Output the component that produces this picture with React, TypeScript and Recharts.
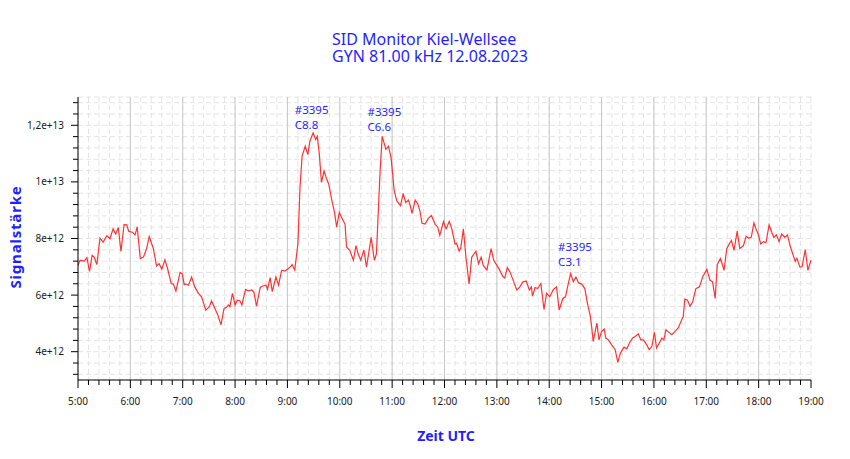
import { LineChart, Line, XAxis, YAxis, CartesianGrid, ReferenceLine, ReferenceDot } from 'recharts'

// time of day in hours (UTC) and signal strength in units of 1e12
const hours = [
  5.0, 5.04, 5.12, 5.17, 5.22, 5.27, 5.31, 5.36, 5.42, 5.48, 5.55, 5.61, 5.67, 5.72, 5.77, 5.82, 5.88, 5.93, 5.97,
  6.04, 6.09, 6.13, 6.19, 6.25, 6.31, 6.36, 6.44, 6.5, 6.55, 6.6, 6.66, 6.71, 6.78, 6.82, 6.87, 6.95, 6.99,
  7.03, 7.06, 7.11, 7.17, 7.23, 7.3, 7.36, 7.44, 7.51, 7.55, 7.6, 7.67, 7.73, 7.79, 7.84, 7.87, 7.9, 7.95,
  8.0, 8.04, 8.09, 8.13, 8.2, 8.25, 8.32, 8.36, 8.41, 8.48, 8.53, 8.59, 8.62, 8.67, 8.71, 8.78, 8.83, 8.89, 8.95,
  9.02, 9.05, 9.09, 9.14, 9.2, 9.24, 9.28, 9.34, 9.39, 9.43, 9.49, 9.54, 9.57, 9.61, 9.65, 9.7, 9.75, 9.79, 9.85, 9.9, 9.94, 9.99,
  10.05, 10.1, 10.13, 10.19, 10.26, 10.31, 10.35, 10.4, 10.46, 10.51, 10.6, 10.66, 10.7, 10.77, 10.81, 10.88, 10.93, 10.98,
  11.04, 11.09, 11.16, 11.21, 11.26, 11.31, 11.34, 11.38, 11.44, 11.49, 11.53, 11.57, 11.63, 11.69, 11.75, 11.82, 11.87, 11.91, 11.98,
  12.03, 12.09, 12.14, 12.2, 12.23, 12.28, 12.31, 12.36, 12.41, 12.47, 12.52, 12.6, 12.65, 12.7, 12.74, 12.81, 12.89, 12.94,
  13.0, 13.05, 13.12, 13.15, 13.2, 13.25, 13.31, 13.38, 13.44, 13.5, 13.56, 13.62, 13.66, 13.68, 13.73, 13.78, 13.84, 13.9, 13.95,
  14.01, 14.08, 14.14, 14.19, 14.26, 14.31, 14.35, 14.41, 14.46, 14.51, 14.56, 14.62, 14.68, 14.73, 14.78, 14.81, 14.84, 14.91, 14.95,
  15.0, 15.05, 15.08, 15.13, 15.19, 15.26, 15.31, 15.36, 15.43, 15.48, 15.53, 15.59, 15.66, 15.7, 15.75, 15.8, 15.86, 15.91, 15.96,
  16.01, 16.05, 16.1, 16.15, 16.19, 16.23, 16.27, 16.34, 16.4, 16.46, 16.53, 16.56, 16.59, 16.64, 16.69, 16.74, 16.8, 16.87, 16.93,
  17.01, 17.07, 17.12, 17.17, 17.21, 17.27, 17.34, 17.39, 17.44, 17.48, 17.53, 17.59, 17.64, 17.71, 17.76, 17.81, 17.86, 17.91, 17.95, 17.99,
  18.04, 18.09, 18.14, 18.2, 18.25, 18.29, 18.34, 18.39, 18.44, 18.5, 18.55, 18.6, 18.65, 18.7, 18.73, 18.79, 18.83, 18.89, 18.94, 19.0,
]

const signal = [
  7.05, 7.23, 7.2, 7.32, 6.84, 7.4, 7.34, 7.08, 8.01, 7.87, 8.1, 7.99, 8.34, 8.16, 8.39, 7.54, 8.49, 8.48, 8.25,
  8.22, 8.13, 8.41, 7.29, 7.34, 7.64, 8.07, 7.64, 7.03, 7.11, 6.91, 7.25, 6.94, 6.41, 6.39, 6.14, 6.8, 6.75,
  6.37, 6.39, 6.35, 6.64, 6.29, 6.06, 5.94, 5.47, 5.59, 5.8, 5.59, 5.3, 4.95, 5.53, 5.57, 5.65, 5.59, 6.06,
  5.65, 5.82, 5.8, 5.65, 6.2, 6.15, 6.18, 6.1, 5.61, 6.27, 6.32, 6.35, 6.2, 6.62, 6.12, 6.64, 6.35, 6.88, 6.85,
  6.94, 6.99, 7.08, 6.88, 7.81, 9.8, 10.91, 11.26, 10.97, 11.44, 11.73, 11.5, 11.61, 10.97, 9.98, 10.39, 10.09, 9.92, 9.33, 8.92, 8.4, 8.92,
  8.69, 8.51, 7.69, 7.58, 7.23, 7.75, 7.46, 7.23, 7.6, 6.99, 8.04, 7.23, 7.46, 10.39, 11.61, 11.15, 11.26, 10.85,
  9.68, 9.33, 9.16, 9.59, 9.27, 9.36, 9.2, 8.89, 9.36, 9.22, 8.98, 8.54, 8.51, 8.71, 8.81, 8.51, 8.4, 8.11, 8.6,
  8.34, 8.6, 8.34, 7.81, 7.83, 7.55, 7.65, 8.34, 7.34, 6.39, 7.34, 7.55, 7.11, 7.34, 7.05, 6.88, 7.64, 7.23,
  7.05, 6.9, 6.64, 6.6, 6.97, 6.82, 6.53, 6.18, 6.29, 6.47, 6.5, 6.18, 6.29, 5.96, 6.27, 6.23, 6.41, 5.49, 6.06,
  5.94, 6.2, 6.29, 5.47, 5.88, 5.94, 6.29, 6.76, 6.47, 6.64, 6.43, 6.39, 6.23, 5.71, 5.3, 4.89, 4.36, 5.01, 4.42,
  4.71, 4.8, 4.48, 4.42, 4.25, 4.07, 3.62, 3.95, 4.16, 4.1, 4.3, 4.48, 4.56, 4.63, 4.42, 4.42, 4.25, 4.07, 4.18,
  4.68, 4.13, 4.3, 4.48, 4.42, 4.77, 4.71, 4.6, 4.71, 4.83, 5.12, 5.24, 5.86, 5.82, 5.61, 5.76, 6.23, 6.29, 6.64,
  6.91, 6.53, 6.47, 5.88, 7.08, 7.29, 6.88, 7.64, 7.81, 7.93, 7.58, 8.26, 7.64, 7.75, 8.08, 8.01, 8.05, 8.55, 8.34, 8.16,
  7.81, 7.89, 7.85, 8.48, 8.22, 8.04, 8.13, 7.89, 8.16, 8.04, 8.13, 7.75, 7.46, 7.19, 7.3, 6.99, 7.0, 7.61, 6.88, 7.23,
]

const hourTicks = [5, 6, 7, 8, 9, 10, 11, 12, 13, 14, 15, 16, 17, 18, 19]
const hourLabels = ['5:00', '6:00', '7:00', '8:00', '9:00', '10:00', '11:00', '12:00', '13:00', '14:00', '15:00', '16:00', '17:00', '18:00', '19:00']
const yMajor = [4, 6, 8, 10, 12]
const yMajorLabels = ['4e+12', '6e+12', '8e+12', '1e+13', '1,2e+13']

// flare labels: anchor (hour, signal) of the first text line
const flareHours = [9.14, 10.53, 14.17]
const flareValues = [12.4, 12.32, 7.55]
const flareRegion = ['#3395', '#3395', '#3395']
const flareClass = ['C8.8', 'C6.6', 'C3.1']

const data = hours.map((h, i) => ({ hour: h, value: signal[i] }))

// minor ticks every 12 minutes on x, every 0.4e12 on y
const xTicks: number[] = []
hourTicks.forEach((h, i) => {
  xTicks.push(h)
  if (i < hourTicks.length - 1) for (let k = 1; k < 5; k++) xTicks.push(Math.round((h + k * 0.2) * 100) / 100)
})
const yTicks: number[] = []
for (let k = 0; k < 25; k++) yTicks.push(Math.round((3.2 + k * 0.4) * 10) / 10)

const BLUE = '#1f1fff'
const FONT = '"Noto Sans", sans-serif'

const XTick = ({ x, y, payload }: any) => {
  const idx = hourTicks.indexOf(payload.value)
  const major = idx >= 0
  return (
    <g>
      <line x1={x} x2={x} y1={y} y2={y + (major ? 8 : 5)} stroke="#000" />
      {major && (
        <text x={x} y={y + 25} textAnchor="middle" fontSize={10} fontFamily={FONT} fill="#1a1a1a">
          {hourLabels[idx]}
        </text>
      )}
    </g>
  )
}

const YTick = ({ x, y, payload }: any) => {
  const idx = yMajor.indexOf(payload.value)
  const major = idx >= 0
  return (
    <g>
      <line x1={x - (major ? 7 : 5)} x2={x} y1={y} y2={y} stroke="#000" />
      {major && (
        <text x={x - 14} y={y + 3.5} textAnchor="end" fontSize={10} fontFamily={FONT} fill="#1a1a1a">
          {yMajorLabels[idx]}
        </text>
      )}
    </g>
  )
}

const FlareLabel = ({ cx, cy, region, cls }: any) => (
  <g fontSize={11.5} fontFamily={FONT} fill={BLUE}>
    <text x={cx} y={cy}>{region}</text>
    <text x={cx} y={cy + 15}>{cls}</text>
  </g>
)

export default function App() {
  return (
    <div style={{ position: 'relative', width: 850, height: 459, background: '#fff', fontFamily: FONT }}>
      <style>{'body{margin:0}'}</style>

      {/* Title */}
      <div style={{ position: 'absolute', left: 332, top: 31, color: BLUE, fontSize: 16, lineHeight: '16px' }}>
        SID Monitor Kiel-Wellsee
      </div>
      <div style={{ position: 'absolute', left: 332, top: 48, color: BLUE, fontSize: 16, lineHeight: '16px' }}>
        GYN 81.00 kHz 12.08.2023
      </div>

      <LineChart width={850} height={459} data={data} margin={{ top: 97, right: 39, bottom: 49, left: 0 }}>
        <CartesianGrid stroke="#e4e4e4" strokeDasharray="5 3" />
        {hourTicks.slice(1, -1).map(h => (
          <ReferenceLine key={h} x={h} stroke="#c8c8c8" />
        ))}
        <XAxis
          dataKey="hour"
          type="number"
          domain={[5, 19]}
          ticks={xTicks}
          interval={0}
          tickSize={0}
          tickMargin={0}
          tick={<XTick />}
          height={30}
          stroke="#000"
        />
        <YAxis
          type="number"
          domain={[3, 13]}
          ticks={yTicks}
          interval={0}
          tickSize={0}
          tickMargin={0}
          tick={<YTick />}
          width={78}
          stroke="#000"
        />
        <Line
          dataKey="value"
          type="linear"
          stroke="#ff3333"
          strokeWidth={1.2}
          dot={false}
          isAnimationActive={false}
        />
        {flareHours.map((h, i) => (
          <ReferenceDot
            key={i}
            x={h}
            y={flareValues[i]}
            r={0}
            shape={(p: any) => <FlareLabel cx={p.cx} cy={p.cy} region={flareRegion[i]} cls={flareClass[i]} />}
          />
        ))}
      </LineChart>

      {/* Axis titles */}
      <div
        style={{
          position: 'absolute',
          left: 14.5,
          top: 237,
          transform: 'translate(-50%, -50%) rotate(-90deg)',
          color: BLUE,
          fontWeight: 'bold',
          fontSize: 15,
          letterSpacing: 0.8,
          lineHeight: '16px',
          whiteSpace: 'nowrap',
        }}
      >
        Signalstärke
      </div>
      <div
        style={{
          position: 'absolute',
          left: 446,
          top: 436,
          transform: 'translate(-50%, -50%)',
          color: BLUE,
          fontWeight: 'bold',
          fontSize: 14,
          lineHeight: '16px',
          whiteSpace: 'nowrap',
        }}
      >
        Zeit UTC
      </div>
    </div>
  )
}
